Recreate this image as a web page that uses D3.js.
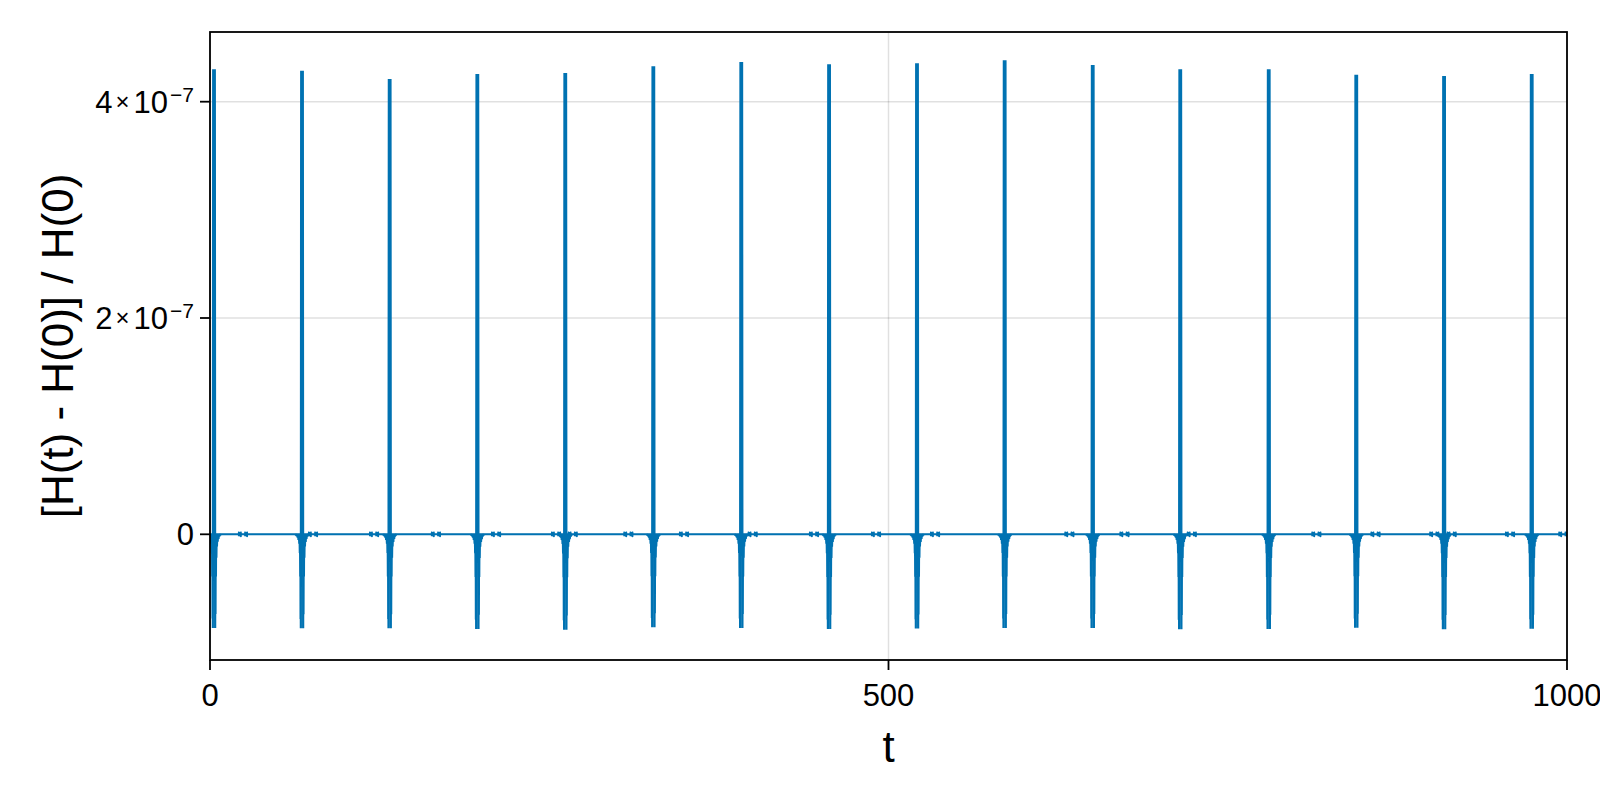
<!DOCTYPE html>
<html>
<head>
<meta charset="utf-8">
<script src="https://cdn.jsdelivr.net/npm/d3@7"></script>
<style>
  html, body { margin: 0; padding: 0; background: #fff; }
  svg { display: block; }
  text { font-family: "Liberation Sans", "TeX Gyre Heros", Arial, sans-serif; fill: #000; }
</style>
</head>
<body>
<svg id="chart" width="1600" height="800"></svg>
<script>
// ---------------- data ----------------
// times of the periodic energy-error spikes
const spikeTimes = [2.95, 67.8, 132.4, 197.0, 261.8, 326.7, 391.5, 456.2, 521.0, 585.6, 650.5, 715.0, 780.2, 844.7, 909.4, 974.0];
// positive peak of each spike (units of 1e-7)
const spikePeaks = [4.29, 4.275, 4.20, 4.245, 4.255, 4.317, 4.357, 4.336, 4.345, 4.373, 4.329, 4.29, 4.29, 4.24, 4.227, 4.246];
// negative trough of each spike (units of 1e-7)
const spikeTroughs = [-0.866, -0.869, -0.869, -0.876, -0.882, -0.860, -0.866, -0.876, -0.872, -0.866, -0.866, -0.878, -0.876, -0.864, -0.878, -0.874];
// sampled shape of one spike: [time offset, fraction of the trough] ; "P" marks the peak
const spikeShape = [
  [-4.7, 0], [-4.4, 0.01], [-4.1, 0], [-3.8, 0.02], [-3.5, 0], [-3.2, 0.035], [-2.9, 0], [-2.6, 0.06],
  [-2.3, 0], [-2.0, 0.1], [-1.8, 0], [-1.6, 0.2], [-1.45, 0], [-1.3, 0.45], [-1.15, 0], [-1.05, 0.9],
  [-0.95, 0], [-0.85, 1.0],
  [-0.6, "P"], [0.6, "P"],
  [0.85, 1.0], [0.95, 0], [1.1, 0.85], [1.25, 0], [1.4, 0.45], [1.55, 0], [1.75, 0.25], [1.95, 0],
  [2.15, 0.13], [2.4, 0], [2.7, 0.08], [3.0, 0], [3.3, 0.05], [3.6, 0], [3.9, 0.025], [4.2, 0],
  [4.5, 0.01], [4.8, 0]
];
// times of the small crossing blips on the baseline
const blipTimes = [24.3, 75.9, 120.9, 166.5, 210.8, 255.0, 267.3, 308.3, 349.3, 399.9, 445.1, 490.8, 534.3, 633.3, 673.9, 723.5, 815.3, 858.9, 902.2, 915.0, 958.0, 997.3];
// each blip = two small crossings at these offsets
const blipLobes = [-2.3, 2.3];
// one crossing: [time offset, value in 1e-7]
const lobeShape = [[-0.7, -0.017], [0.7, 0.017], [0.7, -0.017], [-0.7, 0.017], [-0.7, -0.017]];
// baseline run
const baseT = [0, 1000];
const baseV = [0, 0];

const xTicks = [0, 500, 1000];
const xTickLabels = ["0", "500", "1000"];
const yTicks = [0, 2e-7, 4e-7];
const yTickMant = ["0", "2", "4"];
const yTickExp = [null, "−7", "−7"];
const xLabel = "t";
const yLabel = "[H(t) - H(0)] / H(0)";

// ---------------- layout ----------------
const L = 210, R = 1567, T = 32, B = 660;
const color = "#0072b2";

const svg = d3.select("#chart");
const x = d3.scaleLinear().domain([0, 1000]).range([L, R]);
const y = d3.scaleLinear().domain([-1.1623e-7, 4.6445e-7]).range([B, T]);

svg.append("defs").append("clipPath").attr("id", "clip")
  .append("rect").attr("x", L).attr("y", T).attr("width", R - L).attr("height", B - T);

// grid
const grid = svg.append("g");
grid.selectAll("line.gx").data(xTicks).join("line")
  .attr("x1", d => x(d)).attr("x2", d => x(d)).attr("y1", T).attr("y2", B)
  .attr("stroke", "rgba(0,0,0,0.12)").attr("stroke-width", 1.5);
grid.selectAll("line.gy").data(yTicks).join("line")
  .attr("y1", d => y(d)).attr("y2", d => y(d)).attr("x1", L).attr("x2", R)
  .attr("stroke", "rgba(0,0,0,0.12)").attr("stroke-width", 1.5);

// data
const line = d3.line().x(d => x(d[0])).y(d => y(d[1]));
const plot = svg.append("g").attr("clip-path", "url(#clip)");

plot.append("path").datum(baseT.map((t, i) => [t, baseV[i]]))
  .attr("d", line).attr("fill", "none").attr("stroke", color).attr("stroke-width", 2);

blipTimes.forEach(t0 => {
  blipLobes.forEach(off => {
    const pts = lobeShape.map(([dt, v]) => [t0 + off + dt, v * 1e-7]);
    plot.append("path").datum(pts).attr("d", line)
      .attr("fill", "none").attr("stroke", color).attr("stroke-width", 2)
      .attr("stroke-linejoin", "round");
  });
});

spikeTimes.forEach((t0, i) => {
  const pk = spikePeaks[i] * 1e-7, tr = spikeTroughs[i] * 1e-7;
  const pts = spikeShape.map(([dt, f]) => [t0 + dt, f === "P" ? pk : f * tr]);
  plot.append("path").datum(pts).attr("d", line)
    .attr("fill", "none").attr("stroke", color).attr("stroke-width", 2.2)
    .attr("stroke-linejoin", "miter").attr("stroke-miterlimit", 2);
});

// frame
svg.append("rect").attr("x", L).attr("y", T).attr("width", R - L).attr("height", B - T)
  .attr("fill", "none").attr("stroke", "#000").attr("stroke-width", 1.8);

// x ticks
const xt = svg.append("g");
xt.selectAll("line").data(xTicks).join("line")
  .attr("x1", d => x(d)).attr("x2", d => x(d)).attr("y1", B).attr("y2", B + 10)
  .attr("stroke", "#000").attr("stroke-width", 1.8);
xt.selectAll("text").data(xTicks).join("text")
  .attr("x", d => x(d)).attr("y", 706).attr("text-anchor", "middle")
  .attr("font-size", 31).text((d, i) => xTickLabels[i]);

// y ticks
const yt = svg.append("g");
yt.selectAll("line").data(yTicks).join("line")
  .attr("x1", L - 10).attr("x2", L).attr("y1", d => y(d)).attr("y2", d => y(d))
  .attr("stroke", "#000").attr("stroke-width", 1.8);
yt.selectAll("text").data(yTicks).join("text")
  .attr("x", 194).attr("y", d => y(d) + 11).attr("text-anchor", "end")
  .attr("font-size", 31)
  .each(function (d, i) {
    const s = d3.select(this);
    if (yTickExp[i] === null) { s.text(yTickMant[i]); return; }
    s.append("tspan").text(yTickMant[i]);
    s.append("tspan").attr("font-size", 24).attr("dx", 3).attr("dy", -3).text("×");
    s.append("tspan").attr("dx", 4).attr("dy", 3).text("10");
    s.append("tspan").attr("font-size", 21).attr("dx", 2).attr("dy", -11).text(yTickExp[i]);
  });

// axis labels
svg.append("text").attr("x", (L + R) / 2).attr("y", 762).attr("text-anchor", "middle")
  .attr("font-size", 44).text(xLabel);
svg.append("text").attr("transform", `translate(73,${(T + B) / 2}) rotate(-90)`)
  .attr("text-anchor", "middle").attr("font-size", 44).text(yLabel);
</script>
</body>
</html>
